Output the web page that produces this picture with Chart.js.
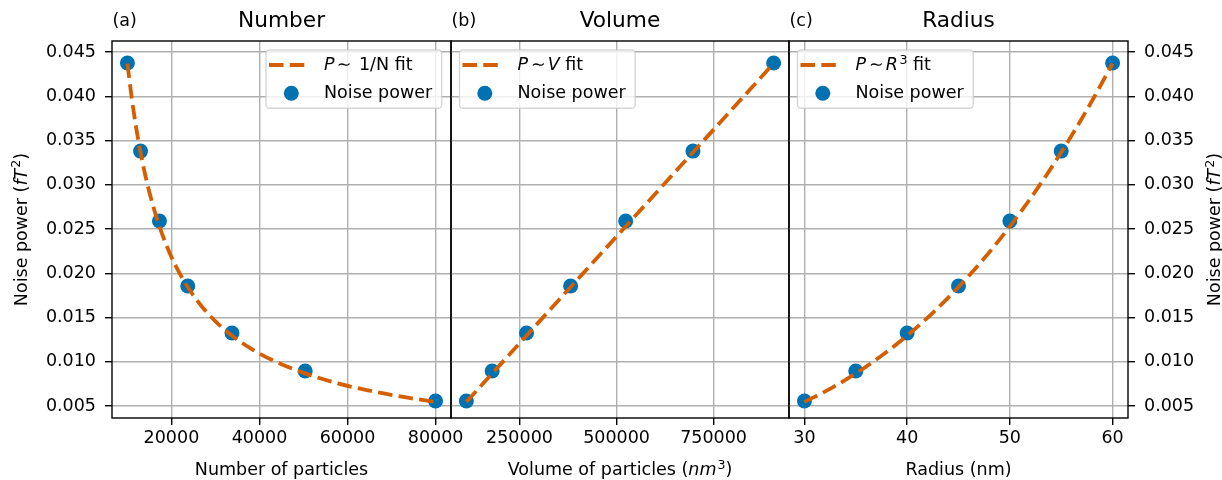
<!DOCTYPE html>
<html><head><meta charset="utf-8">
<script src="https://cdn.jsdelivr.net/npm/chart.js@4/dist/chart.umd.min.js"></script>
<style>
html,body{margin:0;padding:0;background:#fff;}
#wrap{position:relative;width:1222px;height:480px;overflow:hidden;}
#wrap canvas{position:absolute;left:0;top:0;}
</style></head><body>
<div id="wrap">
<canvas id="c1" width="1222" height="480"></canvas>
<canvas id="c2" width="1222" height="480"></canvas>
<canvas id="c3" width="1222" height="480"></canvas>
</div>
<script>
// ---------------- data ----------------
const radius = [30, 35, 40, 45, 50, 55, 60];
const particleNumber = [80000, 50379, 33750, 23704, 17280, 12983, 10000];
const particleVolume = [113097, 179594, 268083, 381704, 523599, 696910, 904779];
const noisePower = [0.00556, 0.00895, 0.01325, 0.01856, 0.02590, 0.03380, 0.04376];

const fitNumberX = [10000, 11000, 12000, 13000, 14000, 15000, 17000, 19000, 21000, 24000, 27000, 30000, 34000, 38000, 43000, 50000, 58000, 66000, 74000, 80000];
const fitNumberP = [0.04370, 0.03973, 0.03642, 0.03362, 0.03121, 0.02913, 0.02571, 0.02300, 0.02081, 0.01821, 0.01619, 0.01457, 0.01285, 0.01150, 0.01016, 0.00874, 0.00753, 0.00662, 0.00591, 0.00546];
const fitVolumeX = [113097, 179594, 268083, 381704, 523599, 696910, 904779];
const fitVolumeP = [0.00546, 0.00867, 0.01295, 0.01844, 0.02529, 0.03366, 0.04370];
const fitRadiusX = [30, 32.5, 35, 37.5, 40, 42.5, 45, 47.5, 50, 52.5, 55, 57.5, 60];
const fitRadiusP = [0.00546, 0.00694, 0.00867, 0.01067, 0.01295, 0.01553, 0.01844, 0.02168, 0.02529, 0.02927, 0.03366, 0.03846, 0.04370];

const numberTicks = [20000, 40000, 60000, 80000];
const volumeTicks = [250000, 500000, 750000];
const radiusTicks = [30, 40, 50, 60];
const powerTicks = [0.005, 0.010, 0.015, 0.020, 0.025, 0.030, 0.035, 0.040, 0.045];

const panelTitles = ['Number', 'Volume', 'Radius'];
const panelTags = ['(a)', '(b)', '(c)'];
const seriesName = 'Noise power';

// ---------------- styling ----------------
const FONT = '"DejaVu Sans"';
const FS = 17.5;
const BLUE = '#0072B2';
const ORANGE = '#D55E00';
const GRID = '#b0b0b0';
const DASH = [14.5, 6.3];

Chart.defaults.font.family = 'DejaVu Sans';
Chart.defaults.font.size = FS;
Chart.defaults.color = '#000';

function fontFor(seg, size) {
  const s = seg.sup ? size * 0.72 : size;
  return (seg.it ? 'italic ' : '') + s + 'px ' + FONT;
}
function segW(ctx, seg, size) {
  if (seg.gap != null) return seg.gap;
  ctx.font = fontFor(seg, size);
  return ctx.measureText(seg.t).width;
}
function drawRich(ctx, segs, x, y, align, size) {
  let w = 0;
  segs.forEach(s => w += segW(ctx, s, size));
  let cx = align === 'center' ? x - w / 2 : x;
  ctx.textAlign = 'left';
  ctx.textBaseline = 'alphabetic';
  segs.forEach(s => {
    const sw = segW(ctx, s, size);
    if (s.gap == null) {
      ctx.font = fontFor(s, size);
      ctx.fillText(s.t, cx, s.sup ? y - size * 0.36 : y);
    }
    cx += sw;
  });
  return w;
}
function roundRect(ctx, x, y, w, h, r) {
  ctx.beginPath();
  ctx.moveTo(x + r, y);
  ctx.lineTo(x + w - r, y);
  ctx.arcTo(x + w, y, x + w, y + r, r);
  ctx.lineTo(x + w, y + h - r);
  ctx.arcTo(x + w, y + h, x + w - r, y + h, r);
  ctx.lineTo(x + r, y + h);
  ctx.arcTo(x, y + h, x, y + h - r, r);
  ctx.lineTo(x, y + r);
  ctx.arcTo(x, y, x + r, y, r);
  ctx.closePath();
}

const yTitleSegs = [{t: 'Noise power ('}, {t: 'fT', it: 1}, {gap: 1}, {t: '2', sup: 1}, {t: ')'}];

const decorPlugin = {
  id: 'decor',
  afterDraw(chart, args, o) {
    const ctx = chart.ctx, a = chart.chartArea;
    ctx.save();
    // spines
    ctx.strokeStyle = '#000';
    ctx.lineWidth = 1.4;
    ctx.strokeRect(a.left, a.top, a.right - a.left, a.bottom - a.top);
    ctx.fillStyle = '#000';
    // title + tag
    ctx.font = '21.7px ' + FONT;
    ctx.textAlign = 'center';
    ctx.textBaseline = 'alphabetic';
    ctx.fillText(o.title, (a.left + a.right) / 2, 26.7);
    ctx.font = FS + 'px ' + FONT;
    ctx.textAlign = 'left';
    ctx.fillText(o.tag, a.left + 0.5, 26);
    // x title
    drawRich(ctx, o.xTitle, (a.left + a.right) / 2, 475, 'center', FS);
    // y title
    if (o.yTitleX != null) {
      ctx.save();
      ctx.translate(o.yTitleX, (a.top + a.bottom) / 2);
      ctx.rotate(-Math.PI / 2);
      drawRich(ctx, yTitleSegs, 0, 0, 'center', FS);
      ctx.restore();
    }
    // legend
    const lineDs = chart.data.datasets[0], dotDs = chart.data.datasets[1];
    let tw = 0;
    o.legendLabel.forEach(s => tw += segW(ctx, s, FS));
    ctx.font = FS + 'px ' + FONT;
    const tw2 = ctx.measureText(dotDs.label).width;
    const W = 58 + Math.max(tw, tw2) + 9.5;
    const H = 58.3;
    const L = o.legendSide === 'right' ? a.right - 9.3 - W : a.left + 8.5;
    const T = 50;
    roundRect(ctx, L, T, W, H, 3.5);
    ctx.fillStyle = 'rgba(255,255,255,0.8)';
    ctx.fill();
    ctx.strokeStyle = 'rgba(204,204,204,0.8)';
    ctx.lineWidth = 1.4;
    ctx.stroke();
    // line sample
    ctx.save();
    ctx.strokeStyle = lineDs.borderColor;
    ctx.lineWidth = lineDs.borderWidth;
    ctx.setLineDash(lineDs.borderDash);
    ctx.beginPath();
    ctx.moveTo(L + 3, T + 15);
    ctx.lineTo(L + 43, T + 15);
    ctx.stroke();
    ctx.restore();
    // dot sample
    ctx.fillStyle = dotDs.backgroundColor;
    ctx.beginPath();
    ctx.arc(L + 25.3, T + 43.3, dotDs.pointRadius, 0, Math.PI * 2);
    ctx.fill();
    ctx.fillStyle = '#000';
    drawRich(ctx, o.legendLabel, L + 58, T + 20.3, 'left', FS);
    ctx.font = FS + 'px ' + FONT;
    ctx.textAlign = 'left';
    ctx.fillText(dotDs.label, L + 58, T + 48.3);
    ctx.restore();
  }
};

function pts(xs, ys) { return xs.map((x, i) => ({x: x, y: ys[i]})); }

function makeChart(id, cfg) {
  const yAxis = {
    type: 'linear',
    position: cfg.yPos,
    min: 0.00364, max: 0.04624,
    afterBuildTicks: s => { s.ticks = powerTicks.map(v => ({value: v})); },
    afterFit: s => { s.width = cfg.yWidth; },
    border: {display: false},
    grid: {color: GRID, lineWidth: 1.4, tickColor: '#000', tickWidth: 1.4, tickLength: 7, drawTicks: cfg.yTicks},
    ticks: {display: cfg.yTicks, padding: 9, color: '#000', font: {size: FS}, callback: v => Number(v).toFixed(3)}
  };
  return new Chart(document.getElementById(id), {
    type: 'scatter',
    data: {
      datasets: [
        {type: 'line', label: 'fit', data: pts(cfg.fitX, cfg.fitY), borderColor: ORANGE, borderWidth: 3.8,
         borderDash: DASH, pointRadius: 0, fill: false, tension: 0.4, cubicInterpolationMode: 'monotone', order: 0},
        {type: 'scatter', label: seriesName, data: pts(cfg.x, noisePower), backgroundColor: BLUE,
         pointRadius: 7.5, borderWidth: 0, order: 1}
      ]
    },
    options: {
      responsive: false, animation: false, events: [],
      layout: {padding: {left: cfg.padL, right: cfg.padR, top: 41, bottom: 0}},
      plugins: {
        legend: {display: false}, tooltip: {enabled: false},
        decor: {title: cfg.title, tag: cfg.tag, xTitle: cfg.xTitle, yTitleX: cfg.yTitleX,
                legendLabel: cfg.legendLabel, legendSide: cfg.legendSide}
      },
      scales: {
        x: {
          type: 'linear', min: cfg.xMin, max: cfg.xMax,
          afterBuildTicks: s => { s.ticks = cfg.xTicks.map(v => ({value: v})); },
          afterFit: s => { s.height = 62; },
          border: {display: false},
          grid: {color: GRID, lineWidth: 1.4, tickColor: '#000', tickWidth: 1.4, tickLength: 7},
          ticks: {padding: 3, color: '#000', maxRotation: 0, autoSkip: false, font: {size: FS}, callback: v => String(v)}
        },
        y: yAxis
      }
    },
    plugins: [decorPlugin]
  });
}

makeChart('c1', {
  x: particleNumber, fitX: fitNumberX, fitY: fitNumberP, xTicks: numberTicks, xMin: 6500, xMax: 83500,
  padL: 0, padR: 771, yPos: 'left', yWidth: 112, yTicks: true, yTitleX: 26.5,
  title: panelTitles[0], tag: panelTags[0],
  xTitle: [{t: 'Number of particles'}],
  legendLabel: [{t: 'P', it: 1}, {gap: 2.2}, {t: '\u223C'}, {gap: 2}, {t: ' 1/N fit'}], legendSide: 'right'
});
makeChart('c2', {
  x: particleVolume, fitX: fitVolumeX, fitY: fitVolumeP, xTicks: volumeTicks, xMin: 73513, xMax: 944363,
  padL: 451, padR: 433, yPos: 'left', yWidth: 0, yTicks: false, yTitleX: null,
  title: panelTitles[1], tag: panelTags[1],
  xTitle: [{t: 'Volume of particles ('}, {t: 'nm', it: 1}, {gap: 1}, {t: '3', sup: 1}, {t: ')'}],
  legendLabel: [{t: 'P', it: 1}, {gap: 3}, {t: '\u223C'}, {gap: 2}, {t: 'V', it: 1}, {t: ' fit'}], legendSide: 'left'
});
makeChart('c3', {
  x: radius, fitX: fitRadiusX, fitY: fitRadiusP, xTicks: radiusTicks, xMin: 28.5, xMax: 61.5,
  padL: 789, padR: 0, yPos: 'right', yWidth: 94, yTicks: true, yTitleX: 1220,
  title: panelTitles[2], tag: panelTags[2],
  xTitle: [{t: 'Radius (nm)'}],
  legendLabel: [{t: 'P', it: 1}, {gap: 3}, {t: '\u223C'}, {gap: 2}, {t: 'R', it: 1}, {gap: 1.5}, {t: '3', sup: 1}, {t: ' fit'}], legendSide: 'left'
});
</script>
</body></html>
